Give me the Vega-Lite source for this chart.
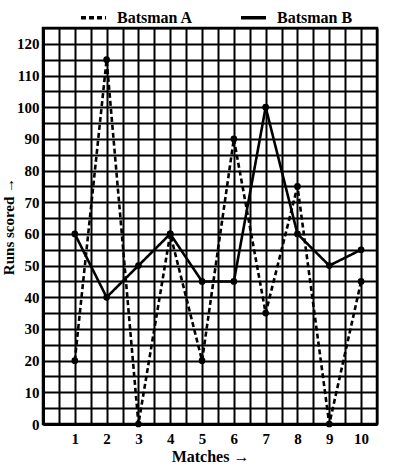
{
  "$schema": "https://vega.github.io/schema/vega-lite/v6.json",
  "width": 334,
  "height": 396,
  "autosize": {"type": "none"},
  "padding": {"left": 43, "top": 28, "right": 22, "bottom": 47},
  "background": "white",
  "config": {
    "view": {"stroke": "black", "strokeWidth": 2.5},
    "font": "Liberation Serif"
  },
  "data": {
    "values": [
      {"match": 1, "runs": 20, "batsman": "Batsman A"},
      {"match": 2, "runs": 115, "batsman": "Batsman A"},
      {"match": 3, "runs": 0, "batsman": "Batsman A"},
      {"match": 4, "runs": 60, "batsman": "Batsman A"},
      {"match": 5, "runs": 20, "batsman": "Batsman A"},
      {"match": 6, "runs": 90, "batsman": "Batsman A"},
      {"match": 7, "runs": 35, "batsman": "Batsman A"},
      {"match": 8, "runs": 75, "batsman": "Batsman A"},
      {"match": 9, "runs": 0, "batsman": "Batsman A"},
      {"match": 10, "runs": 45, "batsman": "Batsman A"},
      {"match": 1, "runs": 60, "batsman": "Batsman B"},
      {"match": 2, "runs": 40, "batsman": "Batsman B"},
      {"match": 3, "runs": 50, "batsman": "Batsman B"},
      {"match": 4, "runs": 60, "batsman": "Batsman B"},
      {"match": 5, "runs": 45, "batsman": "Batsman B"},
      {"match": 6, "runs": 45, "batsman": "Batsman B"},
      {"match": 7, "runs": 100, "batsman": "Batsman B"},
      {"match": 8, "runs": 60, "batsman": "Batsman B"},
      {"match": 9, "runs": 50, "batsman": "Batsman B"},
      {"match": 10, "runs": 55, "batsman": "Batsman B"}
    ]
  },
  "encoding": {
    "x": {
      "field": "match",
      "type": "quantitative",
      "scale": {"domain": [0, 10.5], "nice": false, "zero": false},
      "axis": {
        "values": [0, 0.5, 1, 1.5, 2, 2.5, 3, 3.5, 4, 4.5, 5, 5.5, 6, 6.5, 7, 7.5, 8, 8.5, 9, 9.5, 10, 10.5],
        "labelExpr": "datum.value > 0 && datum.value % 1 == 0 ? format(datum.value, 'd') : ''",
        "grid": true, "gridColor": "black", "gridWidth": 2, "gridOpacity": 1,
        "ticks": false,
        "domain": true, "domainColor": "black", "domainWidth": 3,
        "labelFont": "Liberation Serif", "labelFontWeight": "bold", "labelFontSize": 15, "labelColor": "black",
        "labelPadding": 7,
        "title": "Matches \u2192",
        "titleFont": "Liberation Serif", "titleFontWeight": "bold", "titleFontSize": 16, "titleColor": "black",
        "titlePadding": 2
      }
    },
    "y": {
      "field": "runs",
      "type": "quantitative",
      "scale": {"domain": [0, 125], "nice": false},
      "axis": {
        "values": [0, 5, 10, 15, 20, 25, 30, 35, 40, 45, 50, 55, 60, 65, 70, 75, 80, 85, 90, 95, 100, 105, 110, 115, 120, 125],
        "labelExpr": "datum.value % 10 == 0 && datum.value <= 120 ? format(datum.value, 'd') : ''",
        "grid": true, "gridColor": "black", "gridWidth": 2, "gridOpacity": 1,
        "ticks": false,
        "domain": true, "domainColor": "black", "domainWidth": 3,
        "labelFont": "Liberation Serif", "labelFontWeight": "bold", "labelFontSize": 15, "labelColor": "black",
        "labelPadding": 4,
        "title": "Runs scored \u2192",
        "titleFont": "Liberation Serif", "titleFontWeight": "bold", "titleFontSize": 15, "titleColor": "black",
        "titlePadding": 0
      }
    }
  },
  "layer": [
    {
      "mark": {"type": "line", "color": "black", "strokeWidth": 2.6},
      "encoding": {
        "strokeDash": {
          "field": "batsman",
          "type": "nominal",
          "scale": {"domain": ["Batsman A", "Batsman B"], "range": [[5, 3], [1, 0]]},
          "legend": {
            "orient": "none",
            "legendX": 36,
            "legendY": -25,
            "direction": "horizontal",
            "title": null,
            "labelFont": "Liberation Serif",
            "labelFontWeight": "bold",
            "labelFontSize": 16,
            "labelColor": "black",
            "symbolType": "stroke",
            "symbolSize": 625,
            "symbolStrokeWidth": 3.5,
            "symbolStrokeColor": "black",
            "columnPadding": 40,
            "labelOffset": 9
          }
        }
      }
    },
    {
      "mark": {"type": "point", "filled": true, "color": "black", "size": 45, "opacity": 1},
      "encoding": {"detail": {"field": "batsman", "type": "nominal"}}
    }
  ]
}
